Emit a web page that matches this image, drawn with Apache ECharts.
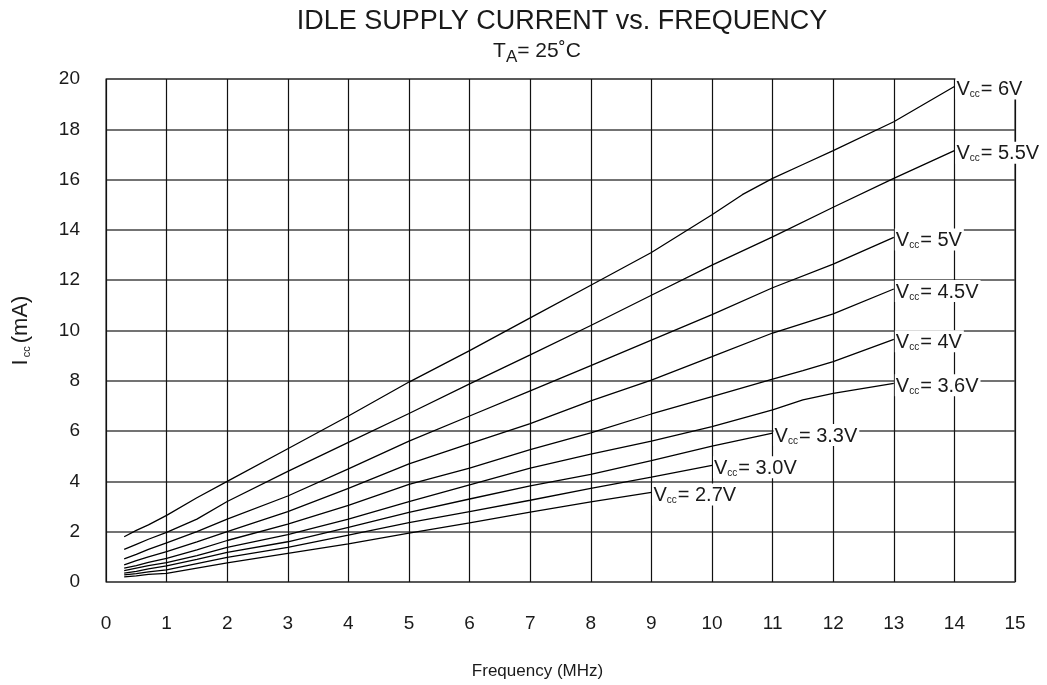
<!DOCTYPE html>
<html>
<head>
<meta charset="utf-8">
<script src="https://cdn.jsdelivr.net/npm/echarts@6/dist/echarts.min.js"></script>
<style>
  html, body { margin: 0; padding: 0; background: #fff; }
  #chart { width: 1047px; height: 685px; }
</style>
</head>
<body>
<div id="chart"></div>
<script>
// Idle supply current (mA) against clock frequency (MHz), one curve per supply voltage
const freqTicks = [0, 1, 2, 3, 4, 5, 6, 7, 8, 9, 10, 11, 12, 13, 14, 15];
const currentTicks = [0, 2, 4, 6, 8, 10, 12, 14, 16, 18, 20];

const vcc6V0 = [[0.3,1.8],[0.5,2.05],[0.7,2.27],[1,2.65],[1.5,3.35],[2,4.0],[3,5.3],[4,6.6],[5,7.95],[6,9.2],[7,10.5],[8,11.8],[9,13.1],[10,14.6],[10.5,15.4],[11,16.05],[11.5,16.6],[12,17.15],[13,18.3],[14,19.7]];
const vcc5V5 = [[0.3,1.3],[0.5,1.5],[0.7,1.7],[1,1.97],[1.5,2.5],[2,3.2],[3,4.4],[4,5.55],[5,6.7],[6,7.88],[7,9.03],[8,10.2],[9,11.4],[10,12.6],[11,13.72],[12,14.9],[13,16.05],[14,17.15]];
const vcc5V0 = [[0.3,0.92],[0.5,1.1],[0.7,1.3],[1,1.56],[1.5,2.0],[2,2.5],[3,3.42],[4,4.5],[5,5.6],[6,6.6],[7,7.6],[8,8.6],[9,9.62],[10,10.63],[11,11.7],[12,12.64],[13,13.7]];
const vcc4V5 = [[0.3,0.68],[0.5,0.85],[0.7,1.0],[1,1.21],[1.5,1.6],[2,2.0],[3,2.8],[4,3.72],[5,4.7],[6,5.5],[7,6.3],[8,7.2],[9,8.03],[10,8.96],[11,9.9],[12,10.66],[13,11.65]];
const vcc4V0 = [[0.3,0.55],[0.5,0.65],[0.7,0.78],[1,0.94],[1.5,1.28],[2,1.65],[3,2.3],[4,3.05],[5,3.88],[6,4.53],[7,5.26],[8,5.93],[9,6.68],[10,7.37],[11,8.07],[11.5,8.4],[12,8.76],[13,9.65]];
const vcc3V6 = [[0.3,0.45],[0.5,0.55],[0.7,0.65],[1,0.77],[1.5,1.05],[2,1.38],[3,1.88],[4,2.5],[5,3.2],[6,3.86],[7,4.53],[8,5.08],[9,5.6],[10,6.18],[11,6.84],[11.5,7.24],[12,7.5],[13,7.9]];
const vcc3V3 = [[0.3,0.35],[0.5,0.42],[0.7,0.52],[1,0.64],[1.5,0.9],[2,1.18],[3,1.6],[4,2.17],[5,2.77],[6,3.3],[7,3.82],[8,4.28],[9,4.83],[10,5.4],[11,5.92]];
const vcc3V0 = [[0.3,0.28],[0.5,0.33],[0.7,0.4],[1,0.48],[1.5,0.73],[2,0.98],[3,1.38],[4,1.86],[5,2.36],[6,2.8],[7,3.25],[8,3.72],[9,4.17],[10,4.64]];
const vcc2V7 = [[0.3,0.2],[0.5,0.24],[0.7,0.3],[1,0.34],[1.5,0.55],[2,0.76],[3,1.14],[4,1.52],[5,1.94],[6,2.35],[7,2.78],[8,3.19],[9,3.56]];

const curveNames = ['6V', '5.5V', '5V', '4.5V', '4V', '3.6V', '3.3V', '3.0V', '2.7V'];
const curves = [vcc6V0, vcc5V5, vcc5V0, vcc4V5, vcc4V0, vcc3V6, vcc3V3, vcc3V0, vcc2V7];

const FONT = '"Liberation Sans", Arial, Helvetica, sans-serif';
const INK = '#1a1a1a';

// Vcc label text with a small "cc" subscript
const subRich = {
  v: { fontFamily: FONT, fontSize: 20, fontWeight: 'normal', color: INK, lineHeight: 22, verticalAlign: 'bottom' },
  s: { fontFamily: FONT, fontSize: 10, fontWeight: 'normal', color: INK, lineHeight: 22, verticalAlign: 'bottom', padding: [0, 1, 0, 0] }
};

function buildSeries(points, name) {
  return {
    name: 'Vcc=' + name,
    type: 'line',
    data: points,
    symbol: 'none',
    smooth: false,
    lineStyle: { color: '#000', width: 1.3 },
    endLabel: {
      show: true,
      distance: 1,
      offset: [0, 2],
      formatter: '{v|V}{s|cc}{v|= ' + name + '}',
      backgroundColor: '#fff',
      padding: [0, 2, 0, 1],
      rich: subRich
    },
    emphasis: { disabled: true },
    z: 3
  };
}

const chart = echarts.init(document.getElementById('chart'), null, { renderer: 'canvas' });

chart.setOption({
  animation: false,
  backgroundColor: '#fff',
  title: [
    {
      text: 'IDLE SUPPLY CURRENT vs. FREQUENCY',
      left: 557, top: 3, textAlign: 'center',
      textStyle: { fontFamily: FONT, fontSize: 27, fontWeight: 'normal', color: INK }
    },
    {
      text: '{t|T}{a|A}{t|= 25˚C}',
      left: 532, top: 33, textAlign: 'center',
      textStyle: {
        fontWeight: 'normal',
        rich: {
          t: { fontFamily: FONT, fontSize: 21, fontWeight: 'normal', color: INK, lineHeight: 24, verticalAlign: 'bottom' },
          a: { fontFamily: FONT, fontSize: 17, fontWeight: 'normal', color: INK, lineHeight: 24, verticalAlign: 'bottom', padding: [0, 0, -4, 0] }
        }
      }
    }
  ],
  grid: {
    left: 106, right: 32, top: 79, bottom: 103,
    show: true, borderColor: '#333', borderWidth: 1.2, backgroundColor: '#fff'
  },
  xAxis: {
    type: 'value',
    min: freqTicks[0], max: freqTicks[freqTicks.length - 1], interval: 1,
    name: 'Frequency (MHz)',
    nameLocation: 'middle', nameGap: 81,
    nameTextStyle: { fontFamily: FONT, fontSize: 17, color: INK, padding: [0, 46, 0, 0] },
    axisLine: { show: false },
    axisTick: { show: false },
    axisLabel: { fontFamily: FONT, fontSize: 19, color: INK, margin: 32 },
    splitLine: { show: true, lineStyle: { color: '#111', width: 1.2 } }
  },
  yAxis: {
    type: 'value',
    min: currentTicks[0], max: currentTicks[currentTicks.length - 1], interval: 2,
    name: '{i|I}{s|cc}{i|(mA)}',
    nameLocation: 'middle', nameGap: 74, nameRotate: 90,
    nameTextStyle: {
      rich: {
        i: { fontFamily: FONT, fontSize: 22, color: INK, lineHeight: 24, verticalAlign: 'bottom' },
        s: { fontFamily: FONT, fontSize: 11, color: INK, lineHeight: 24, verticalAlign: 'bottom', padding: [0, 3, 0, 2] }
      }
    },
    axisLine: { show: false },
    axisTick: { show: false },
    axisLabel: { fontFamily: FONT, fontSize: 19, color: INK, margin: 26 },
    splitLine: { show: true, lineStyle: { color: '#444', width: 1.6 } }
  },
  series: curves.map((c, k) => buildSeries(c, curveNames[k]))
});
</script>
</body>
</html>
